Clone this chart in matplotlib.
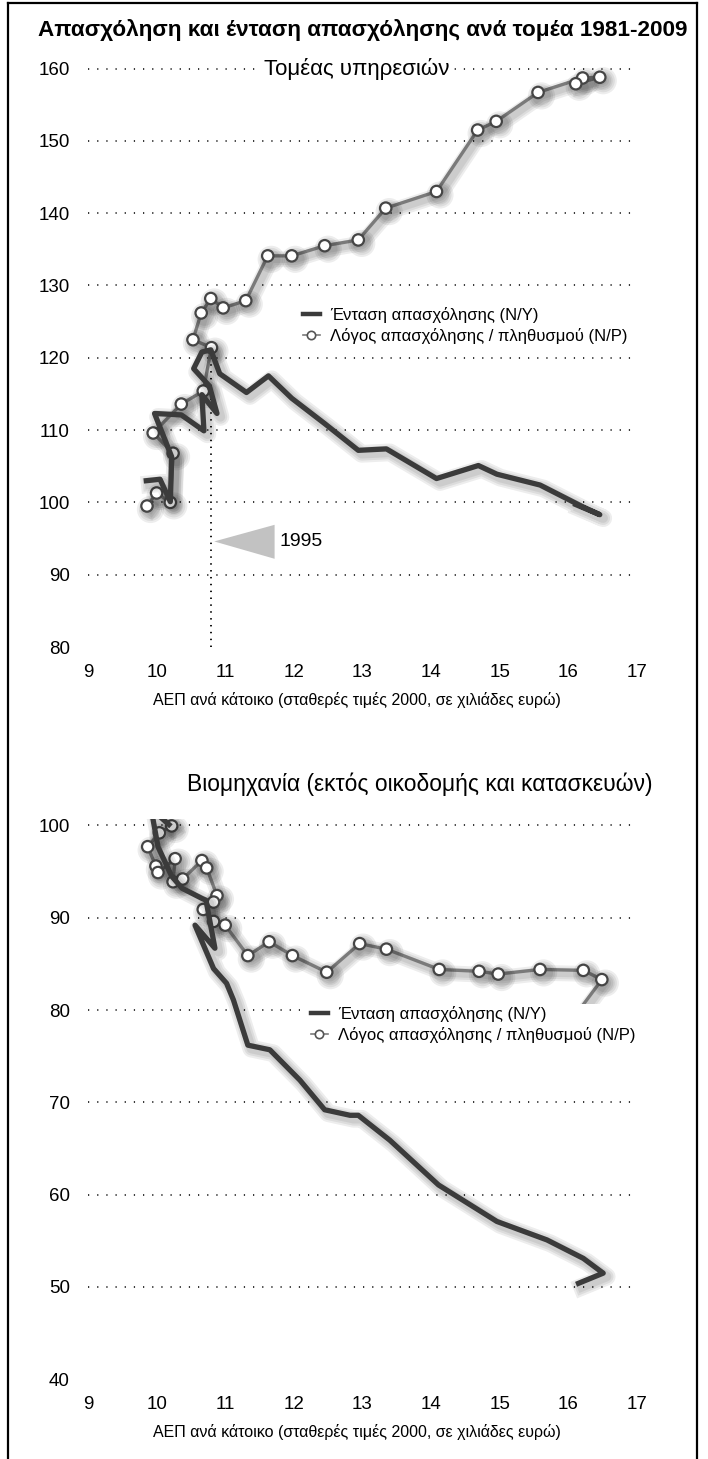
import matplotlib.pyplot as plt
import matplotlib.patheffects as pe
from matplotlib.lines import Line2D
from matplotlib.patches import Polygon, Rectangle

plt.rcParams['font.family'] = ['Liberation Sans', 'DejaVu Sans']

# --- services sector -------------------------------------------------------
srv_np_x = [9.86, 10.00, 10.20, 10.24, 9.95, 10.36, 10.68, 10.80, 10.53, 10.65,
            10.79, 10.97, 11.30, 11.62, 11.97, 12.45, 12.94, 13.34, 14.08, 14.68,
            14.95, 15.56, 16.21, 16.46, 16.11]
srv_np_y = [99.5, 101.3, 100.0, 106.8, 109.6, 113.6, 115.4, 121.4, 122.5, 126.2,
            128.2, 126.9, 127.9, 134.1, 134.1, 135.5, 136.3, 140.7, 143.0, 151.5,
            152.7, 156.7, 158.7, 158.8, 157.9]
srv_ny_x = [9.85, 10.05, 10.20, 10.22, 9.97, 10.36, 10.69, 10.66, 10.88, 10.77,
            10.54, 10.66, 10.79, 10.92, 11.31, 11.63, 11.97, 12.45, 12.94, 13.35,
            14.08, 14.69, 14.96, 15.59, 16.21, 16.46, 16.11]
srv_ny_y = [103.0, 103.2, 100.1, 106.3, 112.3, 112.1, 109.9, 114.9, 112.3, 116.1,
            118.5, 120.8, 121.1, 117.8, 115.2, 117.5, 114.4, 110.9, 107.2, 107.4,
            103.3, 105.1, 103.9, 102.4, 99.4, 98.3, 99.7]

# --- industry (excluding construction) ------------------------------------
ind_np_x = [10.22, 10.04, 9.87, 9.99, 10.02, 10.27, 10.24, 10.38, 10.66, 10.73,
            10.88, 10.83, 10.68, 10.83, 11.00, 11.33, 11.64, 11.98, 12.48, 12.96,
            13.35, 14.12, 14.70, 14.98, 15.59, 16.22, 16.49, 16.11]
ind_np_y = [99.95, 99.2, 97.7, 95.6, 94.9, 96.4, 93.9, 94.2, 96.2, 95.4,
            92.4, 91.7, 90.9, 89.6, 89.2, 85.9, 87.4, 85.9, 84.1, 87.2,
            86.6, 84.4, 84.2, 83.9, 84.4, 84.3, 83.3, 79.5]
ind_ny_x = [10.18, 9.92, 10.02, 10.22, 10.37, 10.66, 10.72, 10.85, 10.56, 10.83,
            11.02, 11.12, 11.33, 11.65, 12.09, 12.45, 12.82, 12.94, 13.40, 14.11,
            14.96, 15.69, 16.22, 16.51, 16.15]
ind_ny_y = [100.1, 101.8, 97.7, 94.5, 93.2, 92.1, 91.9, 86.7, 89.2, 84.5,
            82.9, 81.1, 76.2, 75.7, 72.4, 69.2, 68.6, 68.6, 65.9, 61.05,
            57.1, 55.1, 53.1, 51.5, 50.4]

title = 'Απασχόληση και ένταση απασχόλησης ανά τομέα 1981-2009'
xlabel = 'ΑΕΠ ανά κάτοικο (σταθερές τιμές 2000, σε χιλιάδες ευρώ)'
lab_ny = 'Ένταση απασχόλησης (N/Y)'
lab_np = 'Λόγος απασχόλησης / πληθυσμού (N/P)'
x_ticks = list(range(9, 18))
srv_yticks = list(range(80, 161, 10))
ind_yticks = list(range(40, 101, 10))

W, H = 708, 1459
fig = plt.figure(figsize=(W / 100, H / 100), dpi=100)


def rect(left, top, right, bottom):
    return [left / W, 1 - bottom / H, (right - left) / W, (bottom - top) / H]


def soft_shadow(lw):
    fx = [pe.SimpleLineShadow(offset=(2.5, -2.5), shadow_color='k', alpha=0.07,
                              linewidth=lw + k) for k in (9, 6, 3)]
    return fx + [pe.Normal()]


DARK = '#3b3b3b'
GREY = '#7a7a7a'


def draw_panel(ax, np_x, np_y, ny_x, ny_y, yticks, grid_vals, clip):
    ax.hlines(grid_vals, 9, 16.95, colors='k', linestyles=(0, (0.8, 5.2)),
              linewidth=1.1, zorder=1)
    ax.plot(np_x, np_y, color=GREY, lw=2.4, marker='o', ms=8.2, mfc='white',
            mec='#454545', mew=1.6, zorder=3, clip_on=clip,
            solid_joinstyle='round', path_effects=soft_shadow(2.4))
    ax.plot(ny_x, ny_y, color=DARK, lw=3.8, solid_joinstyle='round',
            zorder=4, clip_on=clip, path_effects=soft_shadow(3.8))
    ax.set_xticks(x_ticks)
    ax.set_yticks(yticks)
    ax.tick_params(length=0, labelsize=13.5)
    ax.tick_params(axis='y', pad=13)
    ax.tick_params(axis='x', pad=12)
    for s in ax.spines.values():
        s.set_visible(False)


# top panel: services
ax1 = fig.add_axes(rect(88, 46.9, 691.7, 647))
ax1.set_xlim(9, 17.8)
ax1.set_ylim(80, 163)
draw_panel(ax1, srv_np_x, srv_np_y, srv_ny_x, srv_ny_y, srv_yticks,
           list(range(90, 161, 10)), False)
ax1.vlines(10.79, 80, 120.4, colors='k', linestyles=(0, (0.8, 3.0)),
           linewidth=1.3, zorder=1)
ax1.add_patch(Polygon([(10.84, 94.6), (11.72, 96.9), (11.72, 92.2)],
                      closed=True, facecolor='#c2c2c2', edgecolor='none'))
ax1.text(11.79, 94.6, '1995', fontsize=14, va='center', ha='left')
ax1.text(12.92, 160, 'Τομέας υπηρεσιών', fontsize=16, ha='center',
         va='center', bbox=dict(facecolor='white', edgecolor='none', pad=2),
         zorder=2)

# bottom panel: industry
ax2 = fig.add_axes(rect(88, 819, 691.7, 1379.3))
ax2.set_xlim(9, 17.8)
ax2.set_ylim(40, 100.7)
draw_panel(ax2, ind_np_x, ind_np_y, ind_ny_x, ind_ny_y, ind_yticks,
           list(range(50, 101, 10)), True)
ax2.add_patch(Rectangle((300 / W, 1 - 1057 / H), 342 / W, 53 / H,
                        transform=fig.transFigure, facecolor='white',
                        edgecolor='none', zorder=5, clip_on=False))

handles = [Line2D([], [], color=DARK, lw=3.2),
           Line2D([], [], color=GREY, lw=1.2, marker='o', ms=6, mfc='white',
                  mec='#555555', mew=1.2)]
for ax, (hx, hy) in ((ax1, (303, 307)), (ax2, (311, 1006))):
    leg = ax.legend(handles, [lab_ny, lab_np], loc='upper left',
                    bbox_to_anchor=(hx / W, 1 - hy / H),
                    bbox_transform=fig.transFigure, frameon=False,
                    fontsize=12, handlelength=1.0, handletextpad=0.6,
                    borderpad=0, borderaxespad=0, labelspacing=0.3)
    leg.set_zorder(6)

fig.text(38 / W, 1 - 30 / H, title, fontsize=16.2, fontweight='bold',
         ha='left', va='center')
fig.text(420 / W, 1 - 784 / H, 'Βιομηχανία (εκτός οικοδομής και κατασκευών)',
         fontsize=16.5, ha='center', va='center')
fig.text(357 / W, 1 - 700 / H, xlabel, fontsize=11.5, ha='center', va='center')
fig.text(357 / W, 1 - 1432 / H, xlabel, fontsize=11.5, ha='center', va='center')

# page frame
for xs, ys in (([8, 8], [1459, 3]), ([8, 697], [3, 3]), ([697, 697], [3, 1459])):
    fig.add_artist(Line2D([v / W for v in xs], [1 - v / H for v in ys],
                          color='k', lw=1.6, transform=fig.transFigure))

fig.savefig('out.png', dpi=100)
